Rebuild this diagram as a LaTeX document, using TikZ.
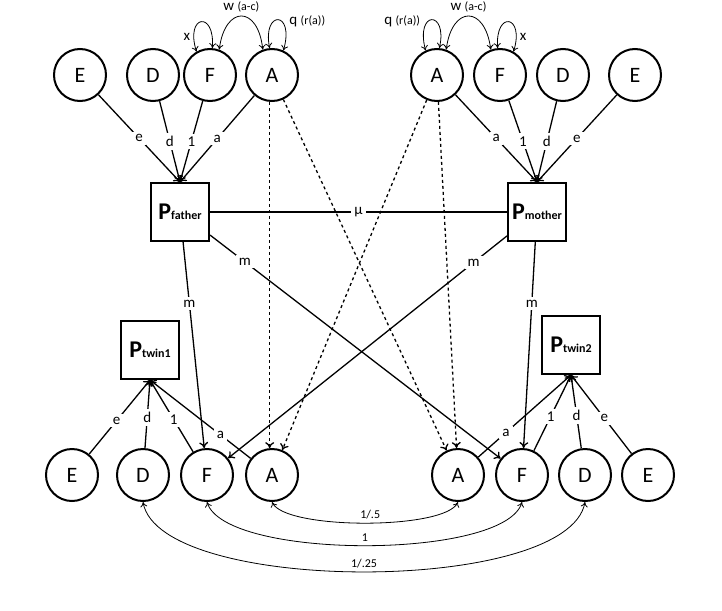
\documentclass[tikz,border=0pt]{standalone}
\usepackage{fontspec}
\setmainfont{Carlito}
\usetikzlibrary{arrows.meta, positioning}

\begin{document}
\begin{tikzpicture}[x=1pt, y=-1pt,
        latent/.style={shape=circle, draw=black, line width=2pt, minimum size=52pt, inner sep=0pt, font=\fontsize{22}{24}\selectfont},
        pbox/.style={shape=rectangle, draw=black, line width=2pt, minimum size=58pt, inner sep=0pt},
        path/.style={line width=1.3pt, -{To[length=6pt,width=9pt]}},
        corr/.style={line width=0.8pt, {To[length=5pt,width=7pt]}-{To[length=5pt,width=7pt]}},
        lab/.style={fill=white, inner sep=3pt, font=\fontsize{15}{17}\selectfont},
        loop/.style={font=\fontsize{15}{17}\selectfont}
        ]
\useasboundingbox (0,0) rectangle (722,610);

%% Parents
\node[latent] (fE) at (80,75) {E};
\node[latent] (fD) at (153,75) {D};
\node[latent] (fF) at (210,75) {F};
\node[latent] (fA) at (272,75) {A};
\node[latent] (mA) at (437,75) {A};
\node[latent] (mF) at (500,75) {F};
\node[latent] (mD) at (563,75) {D};
\node[latent] (mE) at (635,75) {E};
\node[pbox] (Pf) at (180,212) {\textbf{\fontsize{24}{26}\selectfont P}\textbf{\large father}};
\node[pbox] (Pm) at (537,212) {\textbf{\fontsize{24}{26}\selectfont P}\textbf{\large mother}};

%% Twins
\node[pbox] (Pt1) at (150,350) {\textbf{\fontsize{24}{26}\selectfont P}\textbf{\large twin1}};
\node[pbox] (Pt2) at (571,345) {\textbf{\fontsize{24}{26}\selectfont P}\textbf{\large twin2}};
\node[latent] (aE) at (72,475) {E};
\node[latent] (aD) at (143,475) {D};
\node[latent] (aF) at (207,475) {F};
\node[latent] (aA) at (272,475) {A};
\node[latent] (bA) at (458,475) {A};
\node[latent] (bF) at (522,475) {F};
\node[latent] (bD) at (585,475) {D};
\node[latent] (bE) at (648,475) {E};

% Parent paths
\draw[path] (fE) -- node[lab, pos=0.5] {e} (Pf.north);
\draw[path] (fD) -- node[lab, pos=0.5] {d} (Pf.north);
\draw[path] (fF) -- node[lab, pos=0.5] {1} (Pf.north);
\draw[path] (fA) -- node[lab, pos=0.5] {a} (Pf.north);
\draw[path] (mA) -- node[lab, pos=0.5] {a} (Pm.north);
\draw[path] (mF) -- node[lab, pos=0.5] {1} (Pm.north);
\draw[path] (mD) -- node[lab, pos=0.5] {d} (Pm.north);
\draw[path] (mE) -- node[lab, pos=0.5] {e} (Pm.north);
\draw[line width=1.3pt] (Pf) -- node[lab] {μ} (Pm);

% Twin paths
\draw[path] (aE) -- node[lab, pos=0.45] {e} (Pt1.south);
\draw[path] (aD) -- node[lab, pos=0.45] {d} (Pt1.south);
\draw[path] (aF) -- node[lab, pos=0.45] {1} (Pt1.south);
\draw[path] (aA) -- node[lab, pos=0.3] {a} (Pt1.south);
\draw[path] (bA) -- node[lab, pos=0.3] {a} (Pt2.south);
\draw[path] (bF) -- node[lab, pos=0.45] {1} (Pt2.south);
\draw[path] (bD) -- node[lab, pos=0.45] {d} (Pt2.south);
\draw[path] (bE) -- node[lab, pos=0.45] {e} (Pt2.south);

% Transmission
\draw[path] (Pf) -- node[lab, pos=0.3] {m} (aF);
\draw[path] (Pf) -- node[lab, pos=0.12] {m} (bF);
\draw[path] (Pm) -- node[lab, pos=0.12] {m} (aF);
\draw[path] (Pm) -- node[lab, pos=0.3] {m} (bF);
\draw[path, dashed] (fA.-95) -- (aA.95);
\draw[path, dashed] (fA) -- (bA);
\draw[path, dashed] (mA) -- (aA);
\draw[path, dashed] (mA) -- (bA);

% Loops and covariances
\draw[corr] (fF.120) .. controls (185,15) and (215,10) .. node[pos=0.15, left, loop] {x} (fF.85);
\draw[corr] (fF.70) .. controls (225,5) and (258,5) .. node[above, loop] {w {\large(a-c)}} (fA.110);
\draw[corr] (fA.95) .. controls (262,10) and (295,10) .. node[pos=0.8, above right, loop] {q {\large(r(a))}} (fA.65);
\draw[corr] (mF.60) .. controls (525,15) and (495,10) .. node[pos=0.15, right, loop] {x} (mF.95);
\draw[corr] (mF.110) .. controls (485,5) and (452,5) .. node[above, loop] {w {\large(a-c)}} (mA.70);
\draw[corr] (mA.85) .. controls (448,10) and (415,10) .. node[pos=0.8, above left, loop] {q {\large(r(a))}} (mA.115);
\draw[corr] (aA.south) .. controls (285,530) and (445,530) .. node[above, pos=0.52, font=\large] {1/.5} (bA.south);
\draw[corr] (aF.south) .. controls (225,560) and (505,560) .. node[above, font=\large] {1} (bF.south);
\draw[corr] (aD.south) .. controls (160,595) and (568,595) .. node[above, font=\large] {1/.25} (bD.south);
\end{tikzpicture}
\end{document}
